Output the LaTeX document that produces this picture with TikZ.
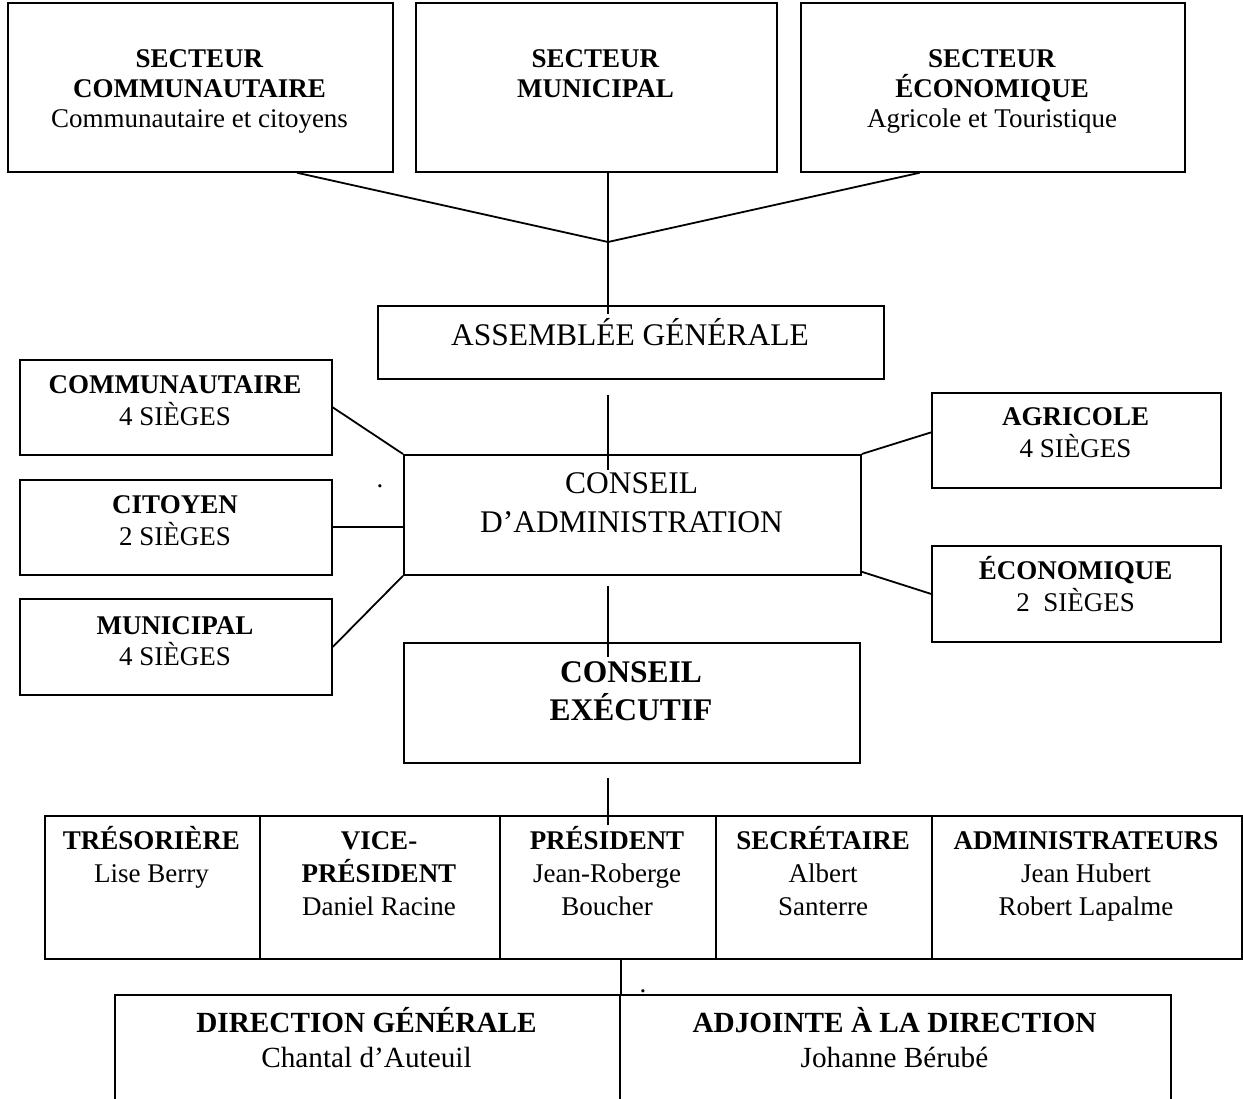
\documentclass[tikz,border=0pt]{standalone}
\usepackage{fontspec}
\setmainfont{Liberation Serif}
\usetikzlibrary{calc}

\newcommand{\pxu}{0.4445pt}

\tikzset{
  box/.style={draw, line width=0.8pt, inner sep=0pt, anchor=north west},
  wh/.style 2 args={minimum width=#1*\pxu, minimum height=#2*\pxu},
  txt/.style={anchor=base, align=flush center, inner sep=0pt, text width=#1*\pxu},
  link/.style={line width=0.8pt},
  sectfont/.style={font=\fontsize{12}{13.3}\selectfont},
  seatfont/.style={font=\fontsize{12}{13.8}\selectfont},
  bigfont/.style={font=\fontsize{14}{16.9}\selectfont},
  rowfont/.style={font=\fontsize{12}{14.7}\selectfont},
  dirfont/.style={font=\fontsize{13}{15.6}\selectfont},
  stray/.style={anchor=base, inner sep=0pt, font=\fontsize{12}{14}\selectfont}
}

\begin{document}
\begin{tikzpicture}[x=\pxu, y=-\pxu]
    \clip (0,0) rectangle (1243,1099);

    % secteurs
    \node[box, wh={385}{169}] (secCom) at (7,2) {};
    \node[box, wh={361}{169}] (secMun) at (415,2) {};
    \node[box, wh={384}{169}] (secEco) at (800,2) {};
    \node[txt=385, sectfont] (secComT) at (199.5,68) {\textbf{SECTEUR}\\\textbf{COMMUNAUTAIRE}\\Communautaire et citoyens};
    \node[txt=361, sectfont] (secMunT) at (595.5,68) {\textbf{SECTEUR}\\\textbf{MUNICIPAL}};
    \node[txt=384, sectfont] (secEcoT) at (992,68) {\textbf{SECTEUR}\\\textbf{ÉCONOMIQUE}\\Agricole et Touristique};

    % assemblee et conseil
    \node[box, wh={506}{73}] (ag) at (377,305) {};
    \node[txt=506, bigfont] (agT) at (630,346) {ASSEMBLÉE GÉNÉRALE};
    \node[box, wh={457}{120}] (ca) at (403,454) {};
    \node[txt=457, bigfont] (caT) at (631.5,494) {CONSEIL\\D’ADMINISTRATION};

    % sieges
    \node[box, wh={312}{95}] (comm) at (19,359) {};
    \node[box, wh={312}{95}] (cit) at (19,479) {};
    \node[box, wh={312}{96}] (mun) at (19,598) {};
    \node[box, wh={289}{95}] (agr) at (931,392) {};
    \node[box, wh={289}{96}] (eco) at (931,545) {};
    \node[txt=312, seatfont] (commT) at (175,394) {\textbf{COMMUNAUTAIRE}\\4 SIÈGES};
    \node[txt=312, seatfont] (citT) at (175,514) {\textbf{CITOYEN}\\2 SIÈGES};
    \node[txt=312, seatfont] (munT) at (175,634) {\textbf{MUNICIPAL}\\4 SIÈGES};
    \node[txt=289, seatfont] (agrT) at (1075.5,426) {\textbf{AGRICOLE}\\4 SIÈGES};
    \node[txt=289, seatfont] (ecoT) at (1075.5,580) {\textbf{ÉCONOMIQUE}\\2\ \ SIÈGES};

    % executif
    \node[box, wh={456}{120}] (ce) at (403,642) {};
    \node[txt=456, font=\fontsize{14}{17.3}\selectfont\bfseries] (ceT) at (631,682) {CONSEIL\\EXÉCUTIF};

    % membres
    \node[box, wh={215}{143}] (tres) at (44,815) {};
    \node[box, wh={240}{143}] (vice) at (259,815) {};
    \node[box, wh={216}{143}] (pres) at (499,815) {};
    \node[box, wh={216}{143}] (secr) at (715,815) {};
    \node[box, wh={310}{143}] (admin) at (931,815) {};
    \node[txt=215, rowfont] (tresT) at (151.5,849) {\textbf{TRÉSORIÈRE}\\Lise Berry};
    \node[txt=240, rowfont] (viceT) at (379,849) {\textbf{VICE-}\\\textbf{PRÉSIDENT}\\Daniel Racine};
    \node[txt=216, rowfont] (presT) at (607,849) {\textbf{PRÉSIDENT}\\Jean-Roberge\\Boucher};
    \node[txt=216, rowfont] (secrT) at (823,849) {\textbf{SECRÉTAIRE}\\Albert\\Santerre};
    \node[txt=310, rowfont] (adminT) at (1086,849) {\textbf{ADMINISTRATEURS}\\Jean Hubert\\Robert Lapalme};

    % direction
    \node[box, wh={505}{120}] (dirGen) at (114,994) {};
    \node[box, wh={551}{120}] (adj) at (619,994) {};
    \node[txt=505, dirfont] (dirGenT) at (366.5,1032) {\textbf{DIRECTION GÉNÉRALE}\\Chantal d’Auteuil};
    \node[txt=551, dirfont] (adjT) at (894.5,1032) {\textbf{ADJOINTE À LA DIRECTION}\\Johanne Bérubé};

    \node[stray] (dotA) at (380,488) {.};
    \node[stray] (dotB) at (643,992) {.};

    % liens
    \coordinate (spine) at (608,0);
    \coordinate (merge) at (608,242);
    \draw[link] ($(secCom.south west)!0.75!(secCom.south east)$) -- (merge);
    \draw[link] ($(secEco.south west)!0.31!(secEco.south east)$) -- (merge);
    \draw[link] (secMun.south -| spine) -- ($(ag.north -| spine)+(0,9)$);
    \draw[link] ($(ag.south -| spine)+(0,15)$) -- ($(ca.north -| spine)+(0,16)$);
    \draw[link] (comm.east) -- (ca.north west);
    \draw[link] (cit.east) -- (cit.east -| ca.west);
    \draw[link] (mun.east) -- (ca.south west);
    \draw[link] (ca.north east) -- ($(agr.west)+(0,-8)$);
    \draw[link] ($(ca.south east)+(0,-4)$) -- (eco.west);
    \draw[link] ($(ca.south -| spine)+(0,10)$) -- ($(ce.north -| spine)+(0,15)$);
    \draw[link] ($(ce.south -| spine)+(0,14)$) -- ($(pres.north -| spine)+(0,10)$);
    \draw[link] (pres.south -| dirGen.east) -- (dirGen.north east);
\end{tikzpicture}
\end{document}
